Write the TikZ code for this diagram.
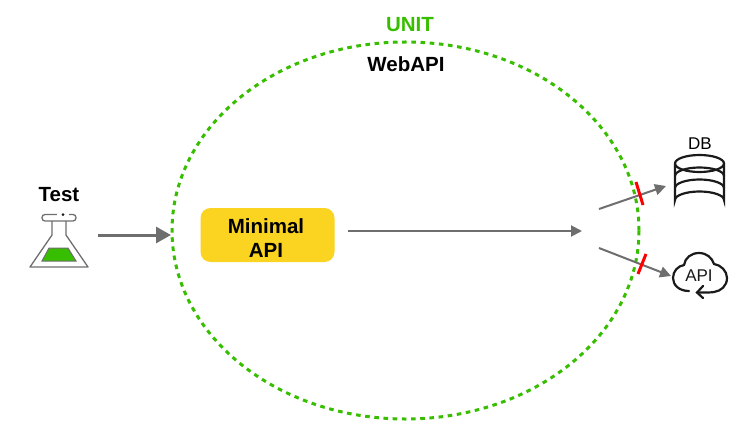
\documentclass[tikz,border=0pt]{standalone}
\usepackage{fontspec}
\setmainfont{Liberation Sans}
\usetikzlibrary{arrows.meta,shapes.geometric}

\definecolor{unitgreen}{HTML}{38BE00}
\definecolor{boxyellow}{HTML}{FBD321}
\definecolor{arrowgray}{HTML}{6E6E6E}
\definecolor{inkblack}{HTML}{1A1A1A}

\begin{document}
\begin{tikzpicture}[x=1pt,y=-1pt,
        unit/.style={draw=unitgreen,line width=3pt,dash pattern=on 4.6pt off 4.6pt,ellipse,inner sep=0pt,outer sep=0pt,minimum width=467pt,minimum height=377pt},
        api/.style={fill=boxyellow,rounded corners=10pt,minimum width=134pt,minimum height=54pt,inner sep=0pt},
        title/.style={inner sep=0pt,font=\fontsize{20.5}{24}\selectfont\bfseries},
        plain/.style={inner sep=0pt,font=\fontsize{17}{19}\selectfont},
        flow/.style={draw=arrowgray,line width=2pt,-{Triangle[length=11pt,width=11pt]}},
        heavy/.style={draw=arrowgray,line width=3pt,-{Triangle[length=15pt,width=16pt]}},
        cut/.style={draw=red,line width=3pt},
        icon/.style={draw=inkblack,line width=2.2pt}]
    \useasboundingbox (0,0) rectangle (749,433);

    \node[unit] (webapi) at (405.5,230.5) {};
    \node[title,text=unitgreen] (unitlabel) at (410,25) {UNIT};
    \node[title,text=black] (weblabel) at (406,64.5) {WebAPI};
    \node[api] (minimal) at (267.5,235) {};
    \node[title,text=black,align=center] (minimallabel) at (266,238) {Minimal\\API};
    \node[title,text=black] (test) at (59,195) {Test};
    \node[plain] (dblabel) at (700,143.5) {DB};

    % flask
    \fill[unitgreen,draw=arrowgray,line width=1pt] (49,248) -- (68,248) -- (76,261) -- (42,261) -- cycle;
    \draw[draw=arrowgray,line width=1.3pt,line join=round] (52,221) -- (52,235) -- (30,267) -- (88,267) -- (66,235) -- (66,221);
    \draw[draw=arrowgray,line width=1.3pt,rounded corners=3pt] (42,214.5) rectangle (76,221);
    \fill[white] (57,212) rectangle (69,216);
    \fill[inkblack] (63,214.5) circle (1.5);

    % db
    \draw[icon] (675,163.5) arc[start angle=180,end angle=-180,x radius=24.5,y radius=8.5];
    \draw[icon] (675,163.5) -- (675,200) arc[start angle=180,end angle=360,x radius=24.5,y radius=8.5] -- (724,163.5);
    \draw[icon] (675,176) arc[start angle=180,end angle=360,x radius=24.5,y radius=8.5];
    \draw[icon] (675,188) arc[start angle=180,end angle=360,x radius=24.5,y radius=8.5];

    % cloud
    \draw[icon,line cap=round] (689,291) .. controls (679,291) and (673,285) .. (673,278)
        .. controls (673,271) and (678,266) .. (684,265)
        .. controls (685,258) and (691,253) .. (699,253)
        .. controls (707,253) and (712,258) .. (714,264)
        .. controls (721,265) and (727,271) .. (727,278)
        .. controls (727,286) and (721,291) .. (714,292)
        .. controls (712,292.5) and (708,292.5) .. (698,292.5);
    \draw[icon,line cap=round] (703,286) -- (697,292.5) -- (703,298);
    \node[plain,text=inkblack] (apilabel) at (699,275.5) {API};

    % free ends
    \coordinate (testout) at (98,235);
    \coordinate (testin) at (171,235);
    \coordinate (minout) at (348,231);
    \coordinate (minin) at (582,231);
    \coordinate (dbout) at (599,209);
    \coordinate (dbin) at (666,186);
    \coordinate (apiout) at (599,248);
    \coordinate (apiin) at (671,276);
    \coordinate (dbcuta) at (636,182);
    \coordinate (dbcutb) at (643,205);
    \coordinate (apicuta) at (646,254);
    \coordinate (apicutb) at (638,274);

    \path
    (testout) edge[heavy] (testin)
    (minout) edge[flow] (minin)
    (dbout) edge[flow] (dbin)
    (apiout) edge[flow] (apiin)
    (dbcuta) edge[cut] (dbcutb)
    (apicuta) edge[cut] (apicutb);
\end{tikzpicture}
\end{document}
